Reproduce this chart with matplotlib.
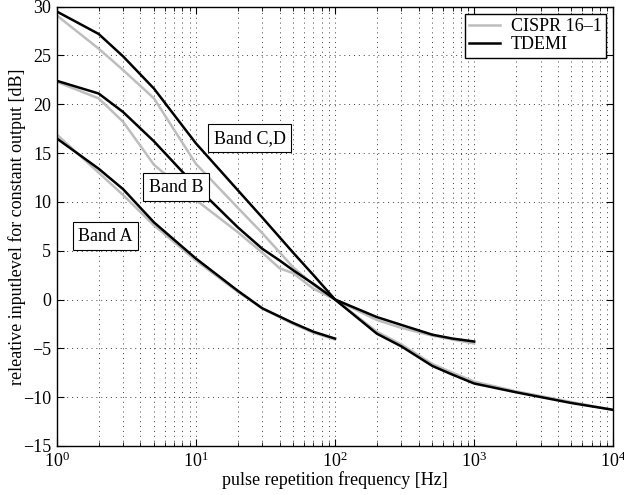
import matplotlib
matplotlib.use('Agg')
import matplotlib.pyplot as plt
from matplotlib.ticker import LogLocator, NullFormatter, FixedLocator

plt.rcParams['font.family'] = ['Liberation Serif', 'DejaVu Serif']
plt.rcParams['mathtext.fontset'] = 'custom'
plt.rcParams['mathtext.rm'] = 'Liberation Serif'
plt.rcParams['mathtext.it'] = 'Liberation Serif:italic'

# pulse repetition frequencies [Hz]
f_a = [1, 2, 3, 5, 10, 20, 30, 50, 70, 100]
f_b = [1, 2, 3, 5, 10, 20, 30, 40, 50, 70, 100, 200, 300, 500, 700, 1000]
f_cd = [1, 2, 3, 5, 10, 20, 30, 50, 70, 100, 200, 300, 500, 700, 1000,
        2000, 5000, 10000]

# relative input level [dB]
a_tdemi = [16.5, 13.4, 11.3, 7.9, 4.2, 0.9, -0.9, -2.4, -3.3, -4.0]
a_cispr = [16.9, 13.0, 10.7, 7.6, 4.0, 0.8, -0.9, -2.5, -3.4, -4.1]
b_tdemi = [22.4, 21.1, 19.2, 16.2, 11.6, 7.4, 5.2, 4.0, 3.0, 1.6, 0,
           -1.8, -2.6, -3.6, -4.0, -4.3]
b_cispr = [22.3, 20.6, 18.2, 13.8, 10.2, 6.9, 4.8, 3.2, 2.7, 1.1, 0,
           -2.1, -2.9, -3.7, -4.1, -4.5]
cd_tdemi = [29.5, 27.2, 24.9, 21.6, 16.0, 11.2, 8.4, 4.8, 2.5, 0,
            -3.5, -4.8, -6.8, -7.7, -8.6, -9.5, -10.6, -11.3]
cd_cispr = [29.1, 25.7, 23.5, 20.6, 13.9, 9.4, 6.8, 3.3, 1.5, 0,
            -3.3, -4.6, -6.6, -7.5, -8.4, -9.4, -10.5, -11.3]

band_labels = ['Band A', 'Band B', 'Band C,D']
label_pos = [(2.25, 6.5), (7.2, 11.5), (24.3, 16.5)]

gray = '#bdbdbd'
fig = plt.figure(figsize=(6.24, 4.95), dpi=100)
ax = fig.add_axes([0.0909, 0.099, 0.892, 0.8877])

lw = 1.8
ax.semilogx(f_a, a_cispr, color=gray, lw=lw, label='CISPR 16\u20131')
ax.semilogx(f_b, b_cispr, color=gray, lw=lw)
ax.semilogx(f_cd, cd_cispr, color=gray, lw=lw)
ax.semilogx(f_a, a_tdemi, color='black', lw=lw, label='TDEMI')
ax.semilogx(f_b, b_tdemi, color='black', lw=lw)
ax.semilogx(f_cd, cd_tdemi, color='black', lw=lw)

for txt, (x, y) in zip(band_labels, label_pos):
    ax.text(x, y, txt, ha='center', va='center', fontsize=13,
            bbox=dict(boxstyle='square,pad=0.3', fc='white', ec='black', lw=0.8))

ax.set_xlim(1, 1e4)
ax.set_ylim(-15, 30)
ax.set_yticks(range(-15, 31, 5))
ax.xaxis.set_major_locator(FixedLocator([1, 10, 100, 1000, 10000]))
ax.set_xticklabels([r'$10^{0}$', r'$10^{1}$', r'$10^{2}$', r'$10^{3}$', r'$10^{4}$'])
ax.xaxis.set_minor_locator(LogLocator(base=10, subs=range(2, 10), numticks=20))
ax.xaxis.set_minor_formatter(NullFormatter())

ax.grid(True, which='major', ls=(0, (1, 4)), color='0.25', lw=0.7)
ax.grid(True, which='minor', axis='x', ls=(0, (1, 4)), color='0.25', lw=0.7)
ax.tick_params(which='both', direction='in', top=True, right=True, labelsize=13)
ax.tick_params(which='major', length=5, pad=4)
ax.tick_params(which='minor', length=3)
for s in ax.spines.values():
    s.set_linewidth(1.0)

ax.set_xlabel('pulse repetition frequency [Hz]', fontsize=13, labelpad=0)
ax.set_ylabel('releative inputlevel for constant output [dB]', fontsize=13, labelpad=-2)

leg = ax.legend(loc='upper right', fontsize=13, fancybox=False, framealpha=1,
                edgecolor='black', handlelength=1.7, handletextpad=0.6,
                borderpad=0.25, labelspacing=0.05, borderaxespad=0.4)
leg.get_frame().set_linewidth(1.0)

fig.savefig('out.png', dpi=100)
